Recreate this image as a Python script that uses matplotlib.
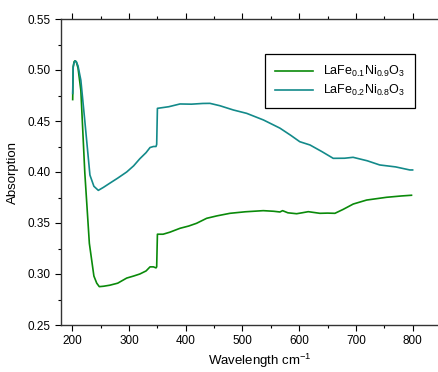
import matplotlib
matplotlib.use('Agg')
import matplotlib.pyplot as plt
from matplotlib.ticker import MultipleLocator

plt.rcParams.update({
    'font.family': ['Liberation Sans', 'DejaVu Sans'],
    'mathtext.default': 'regular',
    'font.size': 8.5,
})

# LaFe0.1Ni0.9O3 (green)
wl_a = [200.6, 201.5, 203, 204.7, 207, 210, 215, 222, 230, 238, 243, 247.5, 255,
        266, 280, 295.8, 308, 319, 330, 337, 343, 347.5, 348.7, 350, 360, 372,
        389.8, 405, 419, 436.8, 455, 477.9, 505, 536.6, 555, 566, 570.7, 580,
        595.5, 605, 616, 636.5, 650, 663, 677.7, 695.3, 718.9, 754, 780, 798]
ab_a = [0.471, 0.503, 0.508, 0.509, 0.508, 0.502, 0.480, 0.399, 0.330, 0.298, 0.291,
        0.2876, 0.288, 0.289, 0.291, 0.296, 0.298, 0.300, 0.303, 0.307, 0.307,
        0.306, 0.307, 0.339, 0.339, 0.341, 0.3448, 0.347, 0.3497, 0.3546, 0.357,
        0.3595, 0.361, 0.3621, 0.3615, 0.3608, 0.3621, 0.360, 0.3591, 0.360,
        0.3611, 0.3595, 0.3597, 0.3595, 0.3634, 0.3686, 0.3725, 0.3752, 0.3765,
        0.3772]

# LaFe0.2Ni0.8O3 (teal)
wl_b = [200.6, 201.5, 203, 205, 207, 210, 215, 222, 231, 238, 245.8, 255, 266,
        280, 295.8, 308, 319, 330, 337, 343, 347.5, 348.7, 350, 370, 389.8,
        410, 430, 442.6, 460, 483.9, 507.4, 537, 566, 585, 601, 619, 640, 660,
        680, 695, 720, 742, 770, 795, 800]
ab_b = [0.477, 0.503, 0.507, 0.509, 0.508, 0.504, 0.490, 0.450, 0.397, 0.386,
        0.382, 0.385, 0.389, 0.394, 0.400, 0.406, 0.413, 0.419, 0.424, 0.425,
        0.425, 0.427, 0.4624, 0.464, 0.4667, 0.4665, 0.4672, 0.4673, 0.465,
        0.4608, 0.4575, 0.451, 0.443, 0.436, 0.4297, 0.4265, 0.420, 0.4134,
        0.4135, 0.4144, 0.411, 0.4069, 0.405, 0.402, 0.402]

labels = [r'LaFe$_{0.1}$Ni$_{0.9}$O$_3$', r'LaFe$_{0.2}$Ni$_{0.8}$O$_3$']

fig = plt.figure(figsize=(4.39, 3.72), dpi=100)
# axes run past the right edge of the picture, as in the reference crop
ax = fig.add_axes([61 / 439, 1 - 325 / 372, 397 / 439, 306 / 372])

ax.plot(wl_a, ab_a, color='#0a8a0a', lw=1.2, label=labels[0])
ax.plot(wl_b, ab_b, color='#138a8a', lw=1.2, label=labels[1])

ax.set_xlim(180, 880)
ax.set_ylim(0.25, 0.55)
ax.xaxis.set_major_locator(MultipleLocator(100))
ax.xaxis.set_minor_locator(MultipleLocator(50))
ax.yaxis.set_major_locator(MultipleLocator(0.05))
ax.yaxis.set_minor_locator(MultipleLocator(0.025))
ax.yaxis.set_major_formatter(matplotlib.ticker.FormatStrFormatter('%.2f'))
ax.tick_params(which='major', direction='out', length=4, width=0.8, labelsize=8.5)
ax.tick_params(which='minor', direction='out', length=2.5, width=0.8)
ax.tick_params(which='both', top=True, right=False)
for s in ax.spines.values():
    s.set_linewidth(1.0)
    s.set_color('#333333')

ax.set_xlabel(r'Wavelength cm$^{-1}$', fontsize=9.5, labelpad=3)
ax.set_ylabel('Absorption', fontsize=9.5, labelpad=6)

# legend box: x 270..421 px, top at y 48 px
leg = ax.legend(loc='upper right', bbox_to_anchor=((421 - 61) / 397, (325 - 48) / 306),
                fontsize=9, fancybox=False, framealpha=1, edgecolor='black',
                handlelength=3, borderpad=0.8, labelspacing=0.3)
leg.get_frame().set_linewidth(0.9)

fig.savefig('out.png', dpi=100)
